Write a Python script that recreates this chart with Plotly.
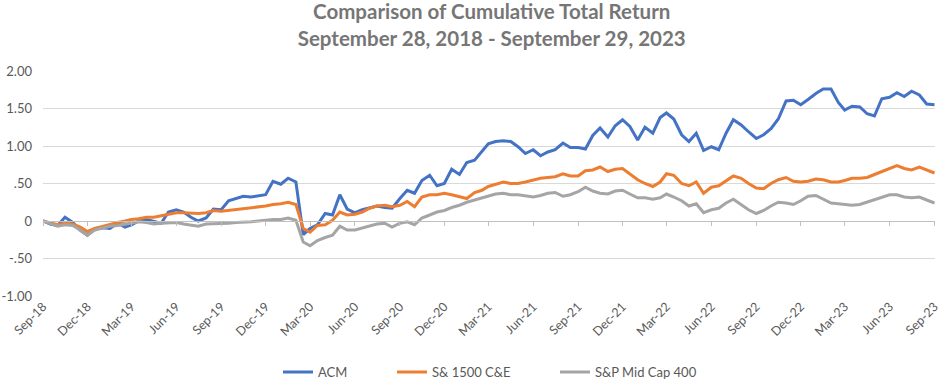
import pandas as pd
import plotly.graph_objects as go

# Semi-monthly observations from Sep 28, 2018 to Sep 28, 2023
start = pd.Timestamp("2018-09-28")
dates = [start + pd.DateOffset(months=k // 2) + pd.Timedelta(days=15 * (k % 2)) for k in range(121)]

acm = [0.00, -0.04, -0.06, 0.05, -0.02, -0.12, -0.19, -0.10, -0.09, -0.10,
       -0.03, -0.08, -0.05, 0.00, 0.02, 0.00, -0.03, 0.12, 0.15, 0.12,
       0.05, 0.00, 0.04, 0.16, 0.15, 0.27, 0.30, 0.33, 0.32, 0.33,
       0.35, 0.53, 0.49, 0.57, 0.52, -0.18, -0.10, -0.05, 0.10, 0.08,
       0.35, 0.16, 0.11, 0.15, 0.17, 0.20, 0.18, 0.17, 0.30, 0.41,
       0.37, 0.54, 0.61, 0.47, 0.50, 0.69, 0.62, 0.78, 0.81, 0.92,
       1.03, 1.06, 1.07, 1.06, 0.99, 0.90, 0.95, 0.87, 0.92, 0.95,
       1.04, 0.98, 0.98, 0.96, 1.14, 1.24, 1.12, 1.27, 1.35, 1.26,
       1.08, 1.25, 1.17, 1.38, 1.44, 1.36, 1.15, 1.06, 1.17, 0.94,
       0.99, 0.95, 1.17, 1.35, 1.28, 1.19, 1.10, 1.15, 1.23, 1.36,
       1.60, 1.61, 1.55, 1.62, 1.70, 1.76, 1.76, 1.58, 1.48, 1.53,
       1.52, 1.43, 1.40, 1.63, 1.65, 1.71, 1.66, 1.73, 1.68, 1.56,
       1.55]

sp1500_ce = [0.00, -0.02, -0.05, -0.03, -0.04, -0.08, -0.14, -0.10, -0.07, -0.04,
             -0.02, 0.00, 0.02, 0.03, 0.05, 0.05, 0.07, 0.09, 0.11, 0.11,
             0.10, 0.10, 0.11, 0.14, 0.13, 0.14, 0.15, 0.16, 0.18, 0.19,
             0.20, 0.22, 0.23, 0.25, 0.22, -0.10, -0.15, -0.06, -0.05, 0.01,
             0.12, 0.08, 0.09, 0.12, 0.17, 0.20, 0.21, 0.19, 0.21, 0.26,
             0.19, 0.32, 0.35, 0.35, 0.37, 0.35, 0.32, 0.30, 0.38, 0.41,
             0.46, 0.49, 0.52, 0.50, 0.50, 0.52, 0.55, 0.57, 0.58, 0.59,
             0.63, 0.60, 0.60, 0.67, 0.68, 0.72, 0.66, 0.69, 0.70, 0.63,
             0.55, 0.50, 0.46, 0.52, 0.63, 0.61, 0.50, 0.47, 0.52, 0.37,
             0.45, 0.47, 0.53, 0.60, 0.57, 0.50, 0.44, 0.43, 0.50, 0.55,
             0.58, 0.53, 0.52, 0.53, 0.56, 0.55, 0.52, 0.52, 0.54, 0.57,
             0.57, 0.58, 0.62, 0.66, 0.70, 0.74, 0.70, 0.68, 0.72, 0.68,
             0.64]

sp_midcap400 = [0.00, -0.04, -0.07, -0.05, -0.06, -0.12, -0.19, -0.12, -0.09, -0.07,
                -0.06, -0.04, -0.02, -0.01, -0.02, -0.04, -0.03, -0.03, -0.02, -0.04,
                -0.06, -0.07, -0.04, -0.04, -0.04, -0.03, -0.02, -0.02, -0.01, 0.00,
                0.01, 0.02, 0.02, 0.04, 0.01, -0.28, -0.33, -0.26, -0.22, -0.19,
                -0.07, -0.12, -0.12, -0.09, -0.06, -0.04, -0.03, -0.08, -0.03, -0.01,
                -0.05, 0.04, 0.08, 0.12, 0.14, 0.18, 0.21, 0.25, 0.28, 0.31,
                0.34, 0.36, 0.37, 0.35, 0.35, 0.34, 0.32, 0.34, 0.37, 0.38,
                0.33, 0.35, 0.39, 0.45, 0.40, 0.37, 0.36, 0.40, 0.41, 0.36,
                0.31, 0.31, 0.29, 0.31, 0.36, 0.32, 0.27, 0.20, 0.23, 0.11,
                0.15, 0.17, 0.24, 0.29, 0.22, 0.15, 0.10, 0.14, 0.20, 0.25,
                0.24, 0.22, 0.27, 0.33, 0.34, 0.29, 0.24, 0.23, 0.22, 0.21,
                0.22, 0.25, 0.28, 0.32, 0.35, 0.35, 0.32, 0.31, 0.32, 0.28,
                0.24]

tick_dates = [start + pd.DateOffset(months=3 * i) for i in range(21)]
tick_labels = ["Sep-18", "Dec-18", "Mar-19", "Jun-19", "Sep-19", "Dec-19", "Mar-20",
               "Jun-20", "Sep-20", "Dec-20", "Mar-21", "Jun-21", "Sep-21", "Dec-21",
               "Mar-22", "Jun-22", "Sep-22", "Dec-22", "Mar-23", "Jun-23", "Sep-23"]
y_ticks = [-1.0, -0.5, 0.0, 0.5, 1.0, 1.5, 2.0]
y_labels = ["-1.00", "-.50", "0", ".50", "1.00", "1.50", "2.00"]

series = [
    ("ACM", acm, "#4472C4", "legend", 278),
    ("S& 1500 C&E", sp1500_ce, "#ED7D31", "legend2", 392),
    ("S&P Mid Cap 400", sp_midcap400, "#A5A5A5", "legend3", 555),
]

fig = go.Figure()
# invisible helper trace so the zero-line tick axis is rendered
fig.add_trace(go.Scatter(x=dates, y=acm, xaxis="x2", mode="lines",
                         line=dict(color="rgba(0,0,0,0)", width=0),
                         showlegend=False, hoverinfo="skip"))
for name, vals, color, leg, _ in series:
    fig.add_trace(go.Scatter(x=dates, y=vals, name=name, mode="lines",
                             line=dict(color=color, width=3), legend=leg))

grey = "#595959"
font_family = "Lato, 'Open Sans', sans-serif"
legend_common = dict(orientation="h", xref="paper", yref="paper",
                     y=-0.338, yanchor="middle", xanchor="left",
                     font=dict(size=13, color=grey, family=font_family),
                     bgcolor="rgba(0,0,0,0)", itemwidth=30)

layout = dict(
    width=942, height=380,
    margin=dict(l=43, r=7, t=71, b=84, autoexpand=False),
    paper_bgcolor="white", plot_bgcolor="white",
    title=dict(text="Comparison of Cumulative Total Return<br>September 28, 2018 - September 29, 2023",
               x=0.522, xanchor="center", xref="container", y=1 - 19 / 380, yanchor="middle",
               font=dict(size=20.5, color="#767676", family=font_family, weight="bold")),
    font=dict(family=font_family, color=grey),
    xaxis=dict(type="date", range=[start, pd.Timestamp("2023-09-29")], automargin=False,
               tickmode="array", tickvals=tick_dates, ticktext=tick_labels,
               tickangle=-45, tickfont=dict(size=12.5, color=grey),
               showgrid=False, zeroline=False, showline=False, ticks=""),
    xaxis2=dict(type="date", overlaying="x", matches="x", anchor="free", position=1 / 3,
                automargin=False,
                tickmode="array", tickvals=tick_dates, showticklabels=False,
                ticks="outside", ticklen=4, tickcolor="#BFBFBF",
                showline=True, linecolor="#BFBFBF", linewidth=1, showgrid=False, zeroline=False),
    yaxis=dict(range=[-1.0, 2.0], tickmode="array", tickvals=y_ticks, ticktext=y_labels,
               automargin=False,
               tickfont=dict(size=13, color=grey), showgrid=True, gridcolor="#D9D9D9",
               gridwidth=1, zeroline=False, showline=False, ticks="", ticklabelstandoff=10),
    showlegend=True,
)
for name, vals, color, leg, lx in series:
    layout[leg] = dict(legend_common, x=(lx - 43) / 892)
fig.update_layout(**layout)

fig.write_html("out.html", config={"displayModeBar": False},
               post_script="document.body.style.margin='0px';")
